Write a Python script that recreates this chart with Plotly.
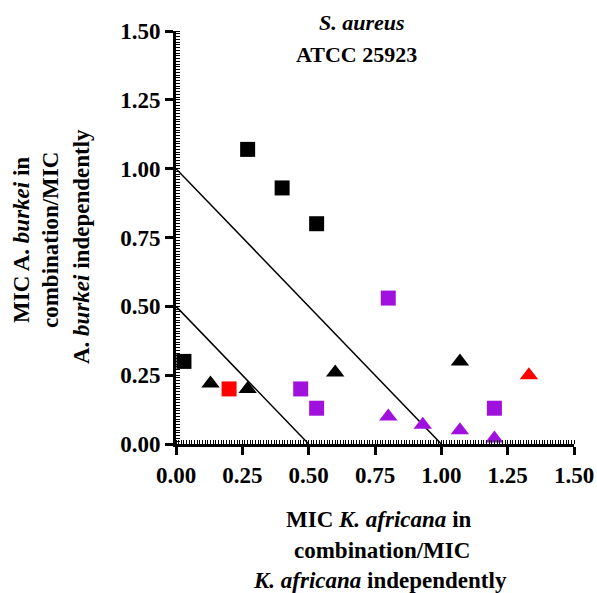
import plotly.graph_objects as go

# Data (FIC isobologram, S. aureus ATCC 25923)
black_sq_x = [0.03, 0.27, 0.40, 0.53]
black_sq_y = [0.30, 1.07, 0.93, 0.80]
red_sq_x = [0.20]
red_sq_y = [0.20]
purple_sq_x = [0.47, 0.53, 0.80, 1.20]
purple_sq_y = [0.20, 0.13, 0.53, 0.13]
black_tri_x = [0.13, 0.27, 0.60, 1.07]
black_tri_y = [0.22, 0.20, 0.26, 0.30]
red_tri_x = [1.33]
red_tri_y = [0.25]
purple_tri_x = [0.80, 0.93, 1.07, 1.20]
purple_tri_y = [0.10, 0.07, 0.05, 0.02]
line1_x = [0.0, 1.0]
line1_y = [1.0, 0.0]
line2_x = [0.0, 0.5]
line2_y = [0.5, 0.0]
tick_vals = [0.0, 0.25, 0.5, 0.75, 1.0, 1.25, 1.5]
tick_text = ["0.00", "0.25", "0.50", "0.75", "1.00", "1.25", "1.50"]

PURPLE = "#A111DD"
FONT = "Liberation Serif"

fig = go.Figure()
fig.add_trace(go.Scatter(x=line1_x, y=line1_y, mode="lines",
                         line=dict(color="black", width=1.5), showlegend=False))
fig.add_trace(go.Scatter(x=line2_x, y=line2_y, mode="lines",
                         line=dict(color="black", width=1.5), showlegend=False))

def add_pts(x, y, sym, color, size):
    fig.add_trace(go.Scatter(x=x, y=y, mode="markers",
                             marker=dict(symbol=sym, color=color, size=size,
                                         line=dict(width=0)),
                             showlegend=False, cliponaxis=False))

add_pts(black_sq_x, black_sq_y, "square", "black", 15)
add_pts(red_sq_x, red_sq_y, "square", "#FF0000", 15)
add_pts(purple_sq_x, purple_sq_y, "square", PURPLE, 15)
add_pts(black_tri_x, black_tri_y, "triangle-up", "black", 16)
add_pts(red_tri_x, red_tri_y, "triangle-up", "#FF0000", 16)
add_pts(purple_tri_x, purple_tri_y, "triangle-up", PURPLE, 16)

# body margin is removed by post_script, so figure coords = page coords
W, H = 597, 593
L, T = 176, 31
R = W - 574
B = H - 444
pw, ph = W - L - R, H - T - B

axis_common = dict(
    range=[0, 1.5], tickmode="array", tickvals=tick_vals,
    ticktext=["<b>%s</b>" % t for t in tick_text],
    showgrid=False, zeroline=False, showline=True, linecolor="black", linewidth=3,
    ticks="outside", ticklen=8, tickwidth=3, tickcolor="black",
    tickfont=dict(family=FONT, size=23, color="black"),
    minor=dict(ticks="inside", ticklen=4, tickwidth=1, tickcolor="black", dtick=0.01),
    fixedrange=True, automargin=False,
)
fig.update_xaxes(**axis_common)
fig.update_yaxes(**axis_common)

def px_x(p):
    return (p - L) / pw

def px_y(p):
    return (H - B - p) / ph

ann = []
def add_text(text, x, y, angle=0, size=23):
    ann.append(dict(text=text, x=px_x(x), y=px_y(y), xref="paper", yref="paper",
                    showarrow=False, textangle=angle, xanchor="center", yanchor="middle",
                    font=dict(family=FONT, size=size, color="black")))

add_text("<b><i>S. aureus</i></b>", 362, 22, size=22)
add_text("<b>ATCC 25923</b>", 356, 54, size=22)
add_text("<b>MIC <i>K. africana</i> in</b>", 379, 519)
add_text("<b>combination/MIC</b>", 382, 550)
add_text("<b><i>K. africana</i> independently</b>", 380, 580)
add_text("<b>MIC A. <i>burkei</i> in</b>", 22, 240, angle=-90)
add_text("<b>combination/MIC</b>", 51, 240, angle=-90)
add_text("<b>A. <i>burkei</i> independently</b>", 81, 247, angle=-90)

fig.update_layout(
    width=W, height=H, margin=dict(l=L, r=R, t=T, b=B),
    paper_bgcolor="white", plot_bgcolor="white",
    annotations=ann, showlegend=False, hovermode=False,
    font=dict(family=FONT, color="black"),
)
fig.write_html(
    "out.html",
    config={"displayModeBar": False, "staticPlot": True},
    post_script="document.body.style.margin='0px';document.body.style.overflow='hidden';",
)
